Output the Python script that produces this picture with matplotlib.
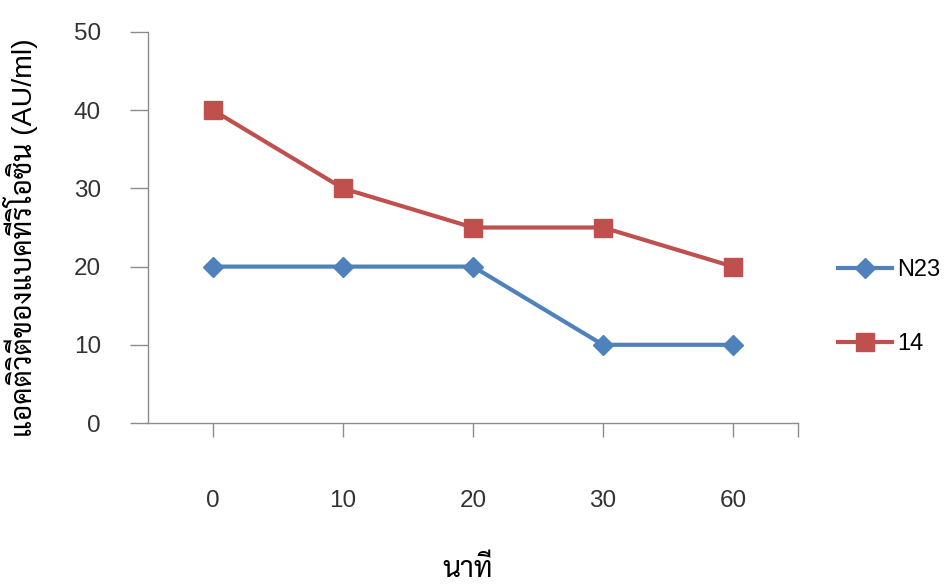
import matplotlib
matplotlib.use("Agg")
import matplotlib.pyplot as plt

plt.rcParams['font.family'] = ['Liberation Sans', 'Sarabun', 'DejaVu Sans']

minutes = ['0', '10', '20', '30', '60']
n23 = [20, 20, 20, 10, 10]
s14 = [40, 30, 25, 25, 20]

blue = '#4F81BD'
red = '#C0504D'
grey = '#8C8C8C'

fig = plt.figure(figsize=(9.52, 5.88), dpi=100)
ax = fig.add_axes([148 / 952, 1 - 423 / 588, 650 / 952, 391 / 588])

x = list(range(len(minutes)))
ax.plot(x, n23, color=blue, lw=3, marker='D', ms=10, label='N23', zorder=3)
ax.plot(x, s14, color=red, lw=3, marker='s', ms=13, label='14', zorder=3)

ax.set_xlim(-0.5, len(minutes) - 0.5)
ax.set_ylim(0, 50)
ax.set_yticks(range(0, 51, 10))
ax.tick_params(axis='y', direction='out', length=13, width=1, color=grey,
               labelsize=17.5, pad=21, labelcolor='#333333')

# category labels sit under the points, tick marks at each point plus the end
ax.set_xticks(x + [len(minutes) - 0.5])
ax.set_xticklabels(minutes + [''])
ax.tick_params(axis='x', direction='out', length=10, width=1, color=grey,
               labelsize=17.5, pad=38, labelcolor='#333333')

for side in ['top', 'right']:
    ax.spines[side].set_visible(False)
for side in ['left', 'bottom']:
    ax.spines[side].set_color(grey)
    ax.spines[side].set_linewidth(1)

fig.text(21 / 952, 1 - 238 / 588, 'แอคติวิตีของแบคทีริโอซิน (AU/ml)',
         rotation=90, ha='center', va='center', fontsize=20.5, color='black')
fig.text(468 / 952, 1 - 569 / 588, 'นาที', ha='center', va='center',
         fontsize=20.5, color='black')

fig.legend(loc='center left', bbox_to_anchor=(838 / 952, 1 - 307 / 588),
           frameon=False, fontsize=17, labelspacing=2.2, handlelength=2.3,
           handletextpad=0.2, borderpad=0, borderaxespad=0)

fig.savefig('out.png')
